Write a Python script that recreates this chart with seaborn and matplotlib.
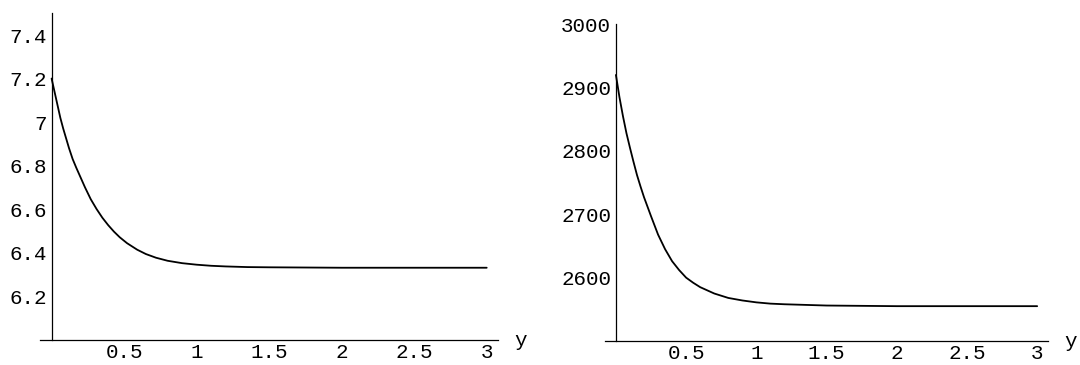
import numpy as np
import pandas as pd
import matplotlib
matplotlib.use("Agg")
import matplotlib.pyplot as plt
import seaborn as sns
from matplotlib.ticker import FixedLocator, FixedFormatter

# ---- data ----
x_left = [0.0, 0.02, 0.04, 0.06, 0.08, 0.10, 0.12, 0.145, 0.17, 0.2, 0.23, 0.27,
          0.31, 0.35, 0.39, 0.43, 0.47, 0.52, 0.59, 0.65, 0.72, 0.8, 0.9, 1.0,
          1.1, 1.2, 1.35, 1.5, 2.0, 2.5, 3.0]
y_left = [7.20, 7.14, 7.08, 7.02, 6.97, 6.925, 6.88, 6.83, 6.79, 6.745, 6.70, 6.645,
          6.60, 6.56, 6.526, 6.496, 6.47, 6.443, 6.413, 6.393, 6.376, 6.362, 6.351, 6.344,
          6.339, 6.336, 6.333, 6.332, 6.33, 6.33, 6.33]

x_right = [0.0, 0.025, 0.05, 0.075, 0.1, 0.125, 0.15, 0.175, 0.2, 0.25, 0.3, 0.35,
           0.4, 0.45, 0.5, 0.55, 0.6, 0.7, 0.8, 0.9, 1.0, 1.1, 1.2, 1.35, 1.5,
           2.0, 2.5, 3.0]
y_right = [2920, 2885, 2855, 2828, 2805, 2783, 2762, 2744, 2727, 2697, 2668, 2645,
           2626, 2612, 2600, 2592, 2585, 2575, 2568, 2564, 2561, 2559, 2558, 2557, 2556,
           2555, 2555, 2555]

x_ticks = [0.5, 1, 1.5, 2, 2.5, 3]
x_tick_labels = ["0.5", "1", "1.5", "2", "2.5", "3"]
y_left_ticks = [6.2, 6.4, 6.6, 6.8, 7.0, 7.2, 7.4]
y_left_labels = ["6.2", "6.4", "6.6", "6.8", "7", "7.2", "7.4"]
y_right_ticks = [2600, 2700, 2800, 2900, 3000]
y_right_labels = ["2600", "2700", "2800", "2900", "3000"]
axis_label = "y"

sns.set_theme(style="white")
plt.rcParams["font.family"] = ["Liberation Mono", "DejaVu Sans"]
plt.rcParams["text.color"] = "black"
plt.rcParams["axes.labelcolor"] = "black"
plt.rcParams["xtick.color"] = "black"
plt.rcParams["ytick.color"] = "black"

FS = 15

fig = plt.figure(figsize=(10.8, 3.65), dpi=100)
ax1 = fig.add_axes([40 / 1080, (365 - 339.5) / 365, 458.3 / 1080, 326.2 / 365])
ax2 = fig.add_axes([604.7 / 1080, (365 - 341) / 365, 443.7 / 1080, 316.7 / 365])

df_l = pd.DataFrame({"x": x_left, "v": y_left})
df_r = pd.DataFrame({"x": x_right, "v": y_right})
sns.lineplot(data=df_l, x="x", y="v", ax=ax1, color="black", lw=1.3, sort=False)
sns.lineplot(data=df_r, x="x", y="v", ax=ax2, color="black", lw=1.3, sort=False)


def style(ax, ylim, yticks, ylabels, yminor):
    ax.set_xlim(-0.08, 3.08)
    ax.set_ylim(*ylim)
    ax.set_xlabel("")
    ax.set_ylabel("")
    ax.patch.set_alpha(0)
    for s in ["top", "right"]:
        ax.spines[s].set_visible(False)
    ax.spines["left"].set_position(("data", 0))
    for s in ["left", "bottom"]:
        ax.spines[s].set_color("black")
        ax.spines[s].set_linewidth(0.9)
    ax.xaxis.set_major_locator(FixedLocator(x_ticks))
    ax.xaxis.set_major_formatter(FixedFormatter(x_tick_labels))
    ax.xaxis.set_minor_locator(FixedLocator([t / 10 for t in range(1, 31) if t % 5]))
    ax.yaxis.set_major_locator(FixedLocator(yticks))
    ax.yaxis.set_major_formatter(FixedFormatter(ylabels))
    ax.yaxis.set_minor_locator(FixedLocator(yminor))
    ax.tick_params(which="both", direction="in", width=0.8, color="black")
    ax.tick_params(which="major", length=2.8)
    ax.tick_params(which="minor", length=1.7)
    ax.tick_params(axis="x", which="major", pad=2.5, labelsize=FS)
    ax.tick_params(axis="y", which="major", pad=3.5, labelsize=FS)
    ax.annotate(axis_label, xy=(1, 0), xycoords="axes fraction",
                xytext=(11.5, -4.5), textcoords="offset points",
                ha="left", va="baseline", fontsize=FS)


yl_minor = [round(6.0 + 0.05 * i, 2) for i in range(1, 30) if i % 4]
yr_minor = [2500 + 20 * i for i in range(1, 25) if i % 5]
style(ax1, (6.0, 7.5), y_left_ticks, y_left_labels, yl_minor)
style(ax2, (2500, 3000), y_right_ticks, y_right_labels, yr_minor)

fig.savefig("out.png", dpi=100, facecolor="white")
